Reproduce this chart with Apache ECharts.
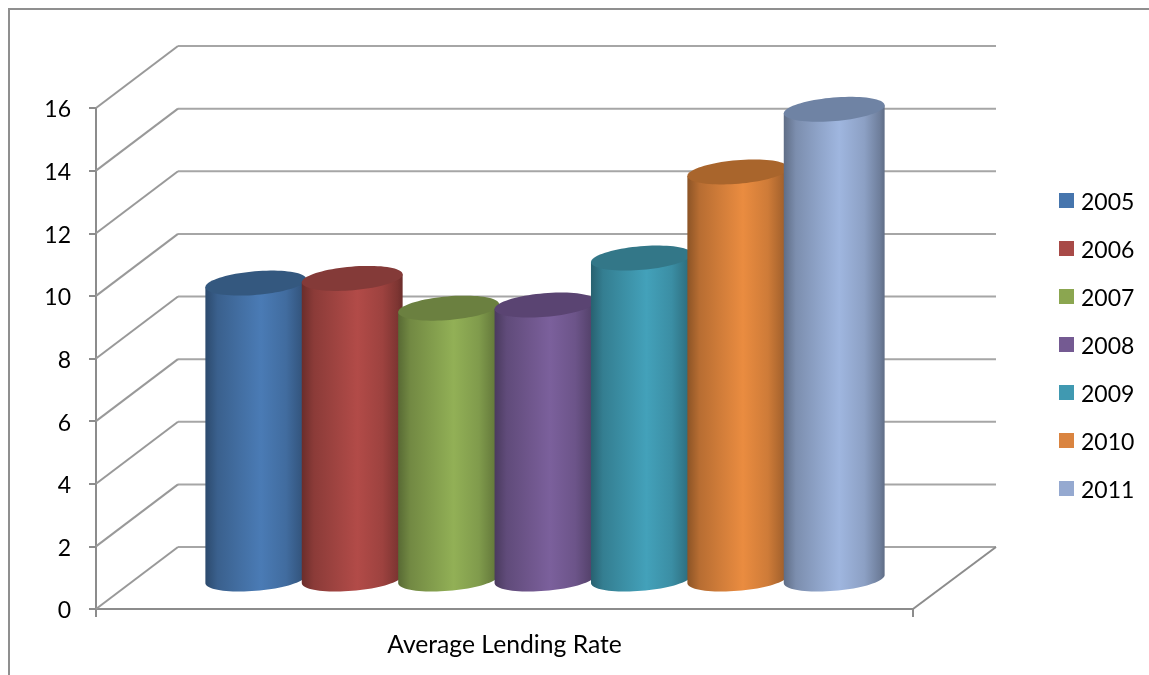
<!DOCTYPE html>
<html>
<head>
<meta charset="utf-8">
<style>html,body{margin:0;padding:0;background:#fff}#chart{width:1149px;height:675px}</style>
<script src="https://cdn.jsdelivr.net/npm/echarts@6/dist/echarts.min.js"></script>
</head>
<body>
<div id="chart"></div>
<script>
// Average lending rate per year
const categories = ['Average Lending Rate'];
const years = ['2005', '2006', '2007', '2008', '2009', '2010', '2011'];
const rates = [9.45, 9.6, 8.65, 8.75, 10.25, 13.0, 15.0];
const yTicks = [0, 2, 4, 6, 8, 10, 12, 14, 16];

// Cylinder face colours, one row per year: side highlight, top cap, legend swatch
const sideColors = ['#4a7bb5', '#b24b48', '#92b056', '#7b609c', '#43a1ba', '#ea8c40', '#9fb6df'];
const capColors = ['#34587f', '#843a38', '#6b8040', '#5a4472', '#337788', '#a9652c', '#6f83a4'];
const swatchColors = ['#4675ad', '#a84a47', '#8ba650', '#745a92', '#4099b1', '#da8440', '#95a9d0'];

// Oblique projection of the chart box
const DEPTH_X = 82, DEPTH_Y = 62;
const COLUMN_DEPTH_Y = 30;
const BAR_FIRST = 118.8, BAR_STEP = 96.4;
const RX = 50.6, RY = 11.8, TILT = 4.85 * Math.PI / 180;

function shade(hex, k) {
  const n = parseInt(hex.slice(1), 16);
  const c = [n >> 16 & 255, n >> 8 & 255, n & 255].map(v => Math.round(v * k));
  return `rgb(${c[0]},${c[1]},${c[2]})`;
}

function ellipsePoint(cx, cy, t) {
  return [
    cx + RX * Math.cos(t) * Math.cos(TILT) + RY * Math.sin(t) * Math.sin(TILT),
    cy - RX * Math.cos(t) * Math.sin(TILT) + RY * Math.sin(t) * Math.cos(TILT)
  ];
}

function arc(cx, cy, from, to, n) {
  const out = [];
  for (let i = 0; i <= n; i++) out.push(ellipsePoint(cx, cy, from + (to - from) * i / n));
  return out;
}

function renderCylinder(index) {
  return function (params, api) {
    const box = params.coordSys;
    const cx = box.x + DEPTH_X / 2 + BAR_FIRST + index * BAR_STEP;
    const baseY = api.coord([0, 0])[1] - COLUMN_DEPTH_Y;
    const topY = api.coord([0, api.value(1)])[1] - COLUMN_DEPTH_Y;
    const t0 = Math.atan((RY / RX) * Math.tan(TILT));
    const base = sideColors[index];
    const body = arc(cx, baseY, t0, t0 + Math.PI, 40)
      .concat([ellipsePoint(cx, topY, t0 + Math.PI), ellipsePoint(cx, topY, t0)]);
    return {
      type: 'group',
      children: [
        {
          type: 'polygon',
          shape: { points: body },
          style: {
            fill: {
              type: 'linear', x: 0, y: 0, x2: 1, y2: 0,
              colorStops: [
                { offset: 0, color: shade(base, 0.6) },
                { offset: 0.12, color: shade(base, 0.78) },
                { offset: 0.35, color: shade(base, 0.9) },
                { offset: 0.55, color: shade(base, 1) },
                { offset: 0.8, color: shade(base, 0.88) },
                { offset: 0.95, color: shade(base, 0.7) },
                { offset: 1, color: shade(base, 0.6) }
              ]
            }
          }
        },
        {
          type: 'polygon',
          shape: { points: arc(cx, topY, 0, Math.PI * 2, 80) },
          style: { fill: capColors[index] }
        }
      ]
    };
  };
}

// Side wall and back wall rulings, plus the floor outline
function renderWalls(params, api) {
  const box = params.coordSys;
  const y = api.coord([0, api.value(1)])[1];
  const left = box.x, right = box.x + box.width;
  const isFloor = api.value(1) === 0;
  const backY = y - DEPTH_Y;
  const children = [
    {
      type: 'polyline',
      shape: { points: [[left + DEPTH_X, backY], [right + DEPTH_X + 1, backY]] },
      style: { fill: null, stroke: '#a6a6a6', lineWidth: 2 }
    },
    {
      type: 'polyline',
      shape: { points: [[left, y], [left + DEPTH_X, backY]] },
      style: { fill: null, stroke: '#999999', lineWidth: 2 }
    }
  ];
  if (isFloor) {
    children.push({
      type: 'polyline',
      shape: { points: [[right + DEPTH_X + 1, backY], [right, y]] },
      style: { fill: null, stroke: '#8c8c8c', lineWidth: 2 }
    });
  }
  return { type: 'group', children };
}

const series = [{
  type: 'custom',
  name: 'walls',
  silent: true,
  z: 1,
  clip: false,
  renderItem: renderWalls,
  encode: { x: 0, y: 1 },
  data: yTicks.map(t => [0, t])
}].concat(years.map((year, i) => ({
  type: 'custom',
  name: year,
  z: 2 + i,
  clip: false,
  itemStyle: { color: swatchColors[i] },
  renderItem: renderCylinder(i),
  encode: { x: 0, y: 1 },
  data: [[0, rates[i]]]
})));

const FONT = 'Lato, "Open Sans", sans-serif';
const chart = echarts.init(document.getElementById('chart'));
chart.setOption({
  animation: false,
  backgroundColor: '#fff',
  grid: { left: 96, right: 236, top: 108, bottom: 66 },
  graphic: [{
    type: 'polyline',
    silent: true,
    shape: { points: [[9, 675], [9, 9], [1149, 9]] },
    style: { fill: null, stroke: '#8f8f8f', lineWidth: 2 }
  }],
  legend: {
    orient: 'vertical',
    left: 1054,
    top: 186,
    icon: 'rect',
    itemWidth: 15,
    itemHeight: 15,
    itemGap: 25,
    data: years,
    selectedMode: false,
    formatter: '{y|{name}}',
    textStyle: {
      rich: { y: { fontFamily: FONT, fontSize: 23, color: '#000', padding: [4, 0, 0, 2] } }
    }
  },
  xAxis: {
    type: 'category',
    data: categories,
    axisLine: { lineStyle: { color: '#8c8c8c', width: 2 } },
    axisTick: { show: true, length: 8, lineStyle: { color: '#8c8c8c', width: 2 } },
    axisLabel: { fontFamily: FONT, fontSize: 24.7, color: '#000', margin: 24 },
    splitLine: { show: false }
  },
  yAxis: {
    type: 'value',
    min: 0,
    max: 16,
    interval: 2,
    axisLine: { show: true, lineStyle: { color: '#8c8c8c', width: 2 } },
    axisTick: { show: true, length: 7, lineStyle: { color: '#8c8c8c', width: 2 } },
    axisLabel: {
      margin: 25,
      formatter: '{v|{value}}',
      rich: { v: { fontFamily: FONT, fontSize: 23, color: '#000', padding: [4, 0, 0, 0] } }
    },
    splitLine: { show: false }
  },
  series
});
</script>
</body>
</html>
